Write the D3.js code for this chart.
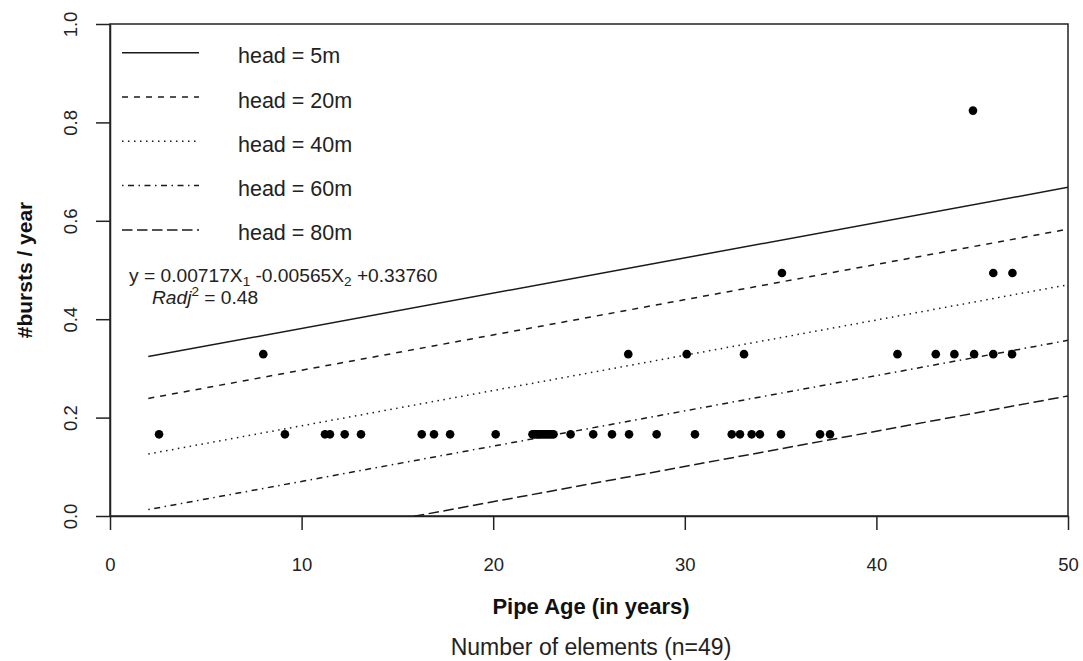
<!DOCTYPE html>
<html>
<head>
<meta charset="utf-8">
<script src="https://cdnjs.cloudflare.com/ajax/libs/d3/7.8.5/d3.min.js"></script>
<style>
  body { margin: 0; background: #fff; }
  svg { font-family: "Liberation Sans", Arial, sans-serif; }
</style>
</head>
<body>
<svg width="1083" height="661"></svg>
<script>
const xTicks = [0, 10, 20, 30, 40, 50];
const yTicks = [0, 0.2, 0.4, 0.6, 0.8, 1.0];

// pipe age (years) and bursts per year for each element
const ages = [
  2.56, 9.13, 11.22, 11.48, 12.25, 13.1, 16.27, 16.91, 17.75, 20.13,
  22.05, 22.15, 22.25, 22.35, 22.45, 22.55, 22.65, 22.75, 22.85, 22.95, 23.05, 23.15,
  24.04, 25.22, 26.2, 27.09, 28.53, 30.53, 32.45, 32.88, 33.49, 33.92, 35.02, 37.06, 37.58,
  8.0, 27.05, 30.1, 33.09, 41.1, 43.1, 44.07, 45.1, 46.1, 47.08,
  35.07, 46.1, 47.1,
  45.04
];
const bursts = [
  0.166, 0.166, 0.166, 0.166, 0.166, 0.166, 0.166, 0.166, 0.166, 0.166,
  0.166, 0.166, 0.166, 0.166, 0.166, 0.166, 0.166, 0.166, 0.166, 0.166, 0.166, 0.166,
  0.166, 0.166, 0.166, 0.166, 0.166, 0.166, 0.166, 0.166, 0.166, 0.166, 0.166, 0.166, 0.166,
  0.329, 0.329, 0.329, 0.329, 0.329, 0.329, 0.329, 0.329, 0.329, 0.329,
  0.494, 0.494, 0.494,
  0.824
];

// fitted lines, one per head, from age 2 to age 50
const heads = ["head = 5m", "head = 20m", "head = 40m", "head = 60m", "head = 80m"];
const fitAges = [2, 50];
const fitStart = [0.324, 0.239, 0.126, 0.013, -0.100];
const fitEnd = [0.668, 0.583, 0.470, 0.357, 0.244];
const dashes = ["none", "6 6", "1.5 4.5", "1.5 4.5 6 4.5", "10.5 4.5"];

const svg = d3.select("svg");
const plotL = 110, plotR = 1068, plotT = 24, plotB = 516;

const x = d3.scaleLinear().domain([0, 50]).range([plotL, plotR]);
const y = d3.scaleLinear().domain([0, 1]).range([plotB, plotT]);

svg.append("clipPath").attr("id", "plotclip")
  .append("rect")
    .attr("x", plotL).attr("y", plotT)
    .attr("width", plotR - plotL).attr("height", plotB - plotT);

// axes
const xAxis = svg.append("g")
    .attr("transform", `translate(0,${plotB})`)
    .call(d3.axisBottom(x).tickValues(xTicks).tickSize(14).tickSizeOuter(0).tickFormat(d3.format("d")));
xAxis.selectAll("text")
    .attr("y", 55).attr("dy", null)
    .attr("font-size", 18.5).attr("fill", "#222");

const yAxis = svg.append("g")
    .attr("transform", `translate(${plotL},0)`)
    .call(d3.axisLeft(y).tickValues(yTicks).tickSize(14).tickSizeOuter(0).tickFormat(d3.format(".1f")));
yAxis.selectAll("text")
    .attr("transform", "rotate(-90)")
    .attr("x", 0).attr("y", -33).attr("dy", null)
    .attr("text-anchor", "middle")
    .attr("font-size", 18.5).attr("fill", "#222");

svg.selectAll(".domain, .tick line").attr("stroke", "#222").attr("stroke-width", 1.5);

svg.append("rect")
    .attr("x", plotL).attr("y", plotT)
    .attr("width", plotR - plotL).attr("height", plotB - plotT)
    .attr("fill", "none").attr("stroke", "#222").attr("stroke-width", 1.5);

// fitted lines
const line = d3.line().x(d => x(d[0])).y(d => y(d[1]));
svg.append("g").attr("clip-path", "url(#plotclip)")
  .selectAll("path")
  .data(heads.map((h, i) => [[fitAges[0], fitStart[i]], [fitAges[1], fitEnd[i]]]))
  .enter().append("path")
    .attr("d", line)
    .attr("fill", "none")
    .attr("stroke", "#1a1a1a")
    .attr("stroke-width", 1.5)
    .attr("stroke-dasharray", (d, i) => dashes[i]);

// points
svg.append("g")
  .selectAll("circle")
  .data(ages.map((a, i) => [a, bursts[i]]))
  .enter().append("circle")
    .attr("cx", d => x(d[0]))
    .attr("cy", d => y(d[1]))
    .attr("r", 4.3)
    .attr("fill", "#000");

// legend
const legend = svg.append("g")
  .selectAll("g")
  .data(heads)
  .enter().append("g")
    .attr("transform", (d, i) => `translate(0,${52.7 + i * 44.3})`);
legend.append("line")
    .attr("x1", 122).attr("x2", 199)
    .attr("stroke", "#1a1a1a").attr("stroke-width", 1.5)
    .attr("stroke-dasharray", (d, i) => dashes[i]);
legend.append("text")
    .attr("x", 238).attr("y", 10.5)
    .attr("font-size", 21.5).attr("fill", "#222")
    .text(d => d);

// equation
const eq = svg.append("text")
    .attr("x", 129).attr("y", 282)
    .attr("font-size", 19.2).attr("fill", "#222");
eq.append("tspan").text("y = 0.00717X");
eq.append("tspan").attr("font-size", 13.5).attr("dy", 4).text("1");
eq.append("tspan").attr("dy", -4).text(" -0.00565X");
eq.append("tspan").attr("font-size", 13.5).attr("dy", 4).text("2");
eq.append("tspan").attr("dy", -4).text(" +0.33760");

const r2 = svg.append("text")
    .attr("x", 152).attr("y", 304)
    .attr("font-size", 19.2).attr("fill", "#222");
r2.append("tspan").attr("font-style", "italic").text("Radj");
r2.append("tspan").attr("font-size", 13.5).attr("dy", -8).text("2");
r2.append("tspan").attr("dy", 8).text(" = 0.48");

// axis titles
svg.append("text")
    .attr("x", (plotL + plotR) / 2 + 2).attr("y", 614)
    .attr("text-anchor", "middle")
    .attr("font-size", 22).attr("font-weight", "bold").attr("fill", "#111")
    .text("Pipe Age (in years)");

svg.append("text")
    .attr("transform", `translate(32,${(plotT + plotB) / 2}) rotate(-90)`)
    .attr("text-anchor", "middle")
    .attr("font-size", 21).attr("font-weight", "bold").attr("fill", "#111")
    .text("#bursts / year");

svg.append("text")
    .attr("x", (plotL + plotR) / 2 + 2).attr("y", 655)
    .attr("text-anchor", "middle")
    .attr("font-size", 23).attr("fill", "#222")
    .text("Number of elements (n=49)");
</script>
</body>
</html>
